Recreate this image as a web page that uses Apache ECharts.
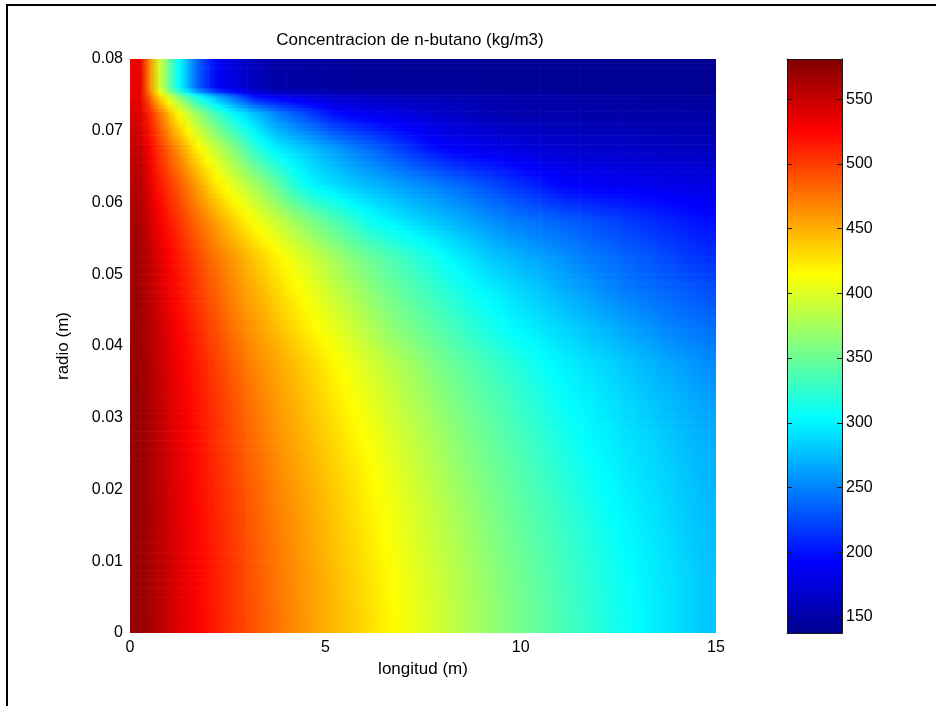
<!DOCTYPE html>
<html>
<head>
<meta charset="utf-8">
<script src="https://cdn.jsdelivr.net/npm/echarts@6/dist/echarts.min.js"></script>
<style>
  html, body { margin: 0; padding: 0; background: #fff; }
  #chart { width: 936px; height: 706px; }
</style>
</head>
<body>
<div id="chart"></div>
<script>
// grid nodes along the tube (m) and along the radius (m)
var longitud = [0.25, 0.75, 1.25, 1.75, 2.25, 2.75, 3.25, 3.75, 4.25, 4.75,
  5.25, 5.75, 6.25, 6.75, 7.25, 7.75, 8.25, 8.75, 9.25, 9.75,
  10.25, 10.75, 11.25, 11.75, 12.25, 12.75, 13.25, 13.75, 14.25, 14.75];
var radio = [0.0025, 0.0075, 0.0125, 0.0175, 0.0225, 0.0275, 0.0325, 0.0375,
  0.0425, 0.0475, 0.0525, 0.0575, 0.0625, 0.0675, 0.0725, 0.0748, 0.0760];

// concentracion (kg/m3), one row per radio value, bottom row first
var concentracion = [
  [572,556,540,525,513,500,488,476,465,455,445,436,426,416,406,397,387,377,368,358,350,341,332,324,315,307,299,293,286,279],
  [572,556,540,525,512,500,487,475,464,454,444,434,424,414,404,395,385,375,366,356,348,339,330,322,313,305,298,292,286,279],
  [572,555,539,523,511,498,485,473,462,452,441,431,421,411,401,391,382,372,362,353,344,336,327,319,310,302,296,290,283,277],
  [572,555,538,522,509,496,483,470,460,449,439,428,418,408,398,388,378,368,358,349,340,332,323,314,305,299,293,287,281,275],
  [571,554,536,521,507,493,480,467,456,446,435,425,414,404,393,383,372,362,353,344,335,326,317,308,301,295,289,284,278,272],
  [571,553,535,519,504,490,476,463,452,441,430,419,409,398,388,377,366,356,347,338,329,320,310,302,297,291,286,280,274,269],
  [571,552,533,517,502,487,472,459,448,436,424,413,402,391,380,369,358,349,340,331,321,312,303,298,292,286,280,274,269,263],
  [570,550,530,513,497,481,466,454,442,430,417,406,394,383,372,360,350,341,331,322,313,303,297,291,285,279,273,267,261,255],
  [569,548,526,508,490,472,458,444,430,416,404,391,378,365,354,344,334,323,313,303,297,290,284,277,271,264,258,251,246,242],
  [568,543,520,501,482,464,449,433,418,404,390,377,363,351,340,329,318,307,299,291,284,276,268,261,253,247,242,237,233,228],
  [566,539,515,494,473,455,437,420,404,389,374,359,347,335,323,312,300,290,280,273,266,260,253,246,241,235,230,224,218,213],
  [563,529,503,478,454,431,409,391,372,354,338,322,306,297,288,280,272,264,255,248,243,238,233,228,223,218,213,208,203,198],
  [558,517,487,455,422,397,374,348,317,298,289,279,272,265,257,250,242,233,225,216,208,199,192,190,188,187,185,183,181,179],
  [552,503,462,419,387,356,321,298,286,274,262,249,237,224,212,199,191,187,183,180,176,172,169,168,167,166,164,163,162,161],
  [541,476,414,367,329,297,273,249,231,214,196,189,184,179,174,169,164,160,155,152,152,151,151,150,150,150,149,149,148,148],
  [534,433,363,309,268,231,196,187,180,173,168,165,162,159,157,156,155,154,153,152,151,150,149,149,148,147,146,146,145,145],
  [534,396,304,232,188,173,158,149,148,146,145,143,142,142,141,141,141,141,140,140,140,140,140,140,139,139,139,139,139,139]
];

var colorbarTicks = [150, 200, 250, 300, 350, 400, 450, 500, 550];
var cMin = 137.6;
var cMax = 581;
var xMax = 15;
var rMax = 0.08;

var jet = ["#00008f", "#0000ff", "#0080ff", "#00ffff", "#80ff80",
  "#ffff00", "#ff8000", "#ff0000", "#800000"];

var nx = longitud.length;
var ny = radio.length;

var nodes = [];
for (var j = 0; j < ny; j++) {
  for (var i = 0; i < nx; i++) {
    nodes.push([longitud[i], radio[j], concentracion[j][i], i, j]);
  }
}

// fractional index of a coordinate in a node array (clamped)
function fracIndex(arr, v) {
  if (v <= arr[0]) return 0;
  if (v >= arr[arr.length - 1]) return arr.length - 1;
  for (var k = 0; k < arr.length - 1; k++) {
    if (v <= arr[k + 1]) return k + (v - arr[k]) / (arr[k + 1] - arr[k]);
  }
  return arr.length - 1;
}

// value between the nodes, like shading interp
function shade(u, v) {
  var i0 = Math.floor(u), j0 = Math.floor(v);
  var i1 = Math.min(i0 + 1, nx - 1), j1 = Math.min(j0 + 1, ny - 1);
  var fu = u - i0, fv = v - j0;
  var a = concentracion[j0][i0] * (1 - fu) + concentracion[j0][i1] * fu;
  var b = concentracion[j1][i0] * (1 - fu) + concentracion[j1][i1] * fu;
  return a * (1 - fv) + b * fv;
}

function colorOf(val) {
  var t = (val - cMin) / (cMax - cMin);
  t = Math.max(0, Math.min(1, t));
  return echarts.color.lerp(t, jet);
}

var subRows = 8;

function renderCell(params, api) {
  var i = api.value(3), j = api.value(4);
  var x0 = i === 0 ? 0 : (longitud[i - 1] + longitud[i]) / 2;
  var x1 = i === nx - 1 ? xMax : (longitud[i] + longitud[i + 1]) / 2;
  var r0 = j === 0 ? 0 : (radio[j - 1] + radio[j]) / 2;
  var r1 = j === ny - 1 ? rMax : (radio[j] + radio[j + 1]) / 2;
  var uL = fracIndex(longitud, x0), uR = fracIndex(longitud, x1);
  var mid = (longitud[i] - x0) / (x1 - x0);
  var children = [];
  for (var s = 0; s < subRows; s++) {
    var ra = r0 + (r1 - r0) * s / subRows;
    var rb = r0 + (r1 - r0) * (s + 1) / subRows;
    var v = fracIndex(radio, (ra + rb) / 2);
    var p0 = api.coord([x0, rb]);
    var p1 = api.coord([x1, ra]);
    children.push({
      type: "rect",
      shape: { x: p0[0], y: p0[1], width: p1[0] - p0[0] + 0.6, height: p1[1] - p0[1] + 0.6 },
      style: {
        fill: {
          type: "linear", x: 0, y: 0, x2: 1, y2: 0,
          colorStops: [
            { offset: 0, color: colorOf(shade(uL, v)) },
            { offset: mid, color: colorOf(shade(i, v)) },
            { offset: 1, color: colorOf(shade(uR, v)) }
          ]
        }
      }
    });
  }
  return { type: "group", children: children };
}

// colour bar: one item spanning the whole colour range
function renderBar(params, api) {
  var p0 = api.coord([api.value(0), api.value(3)]);
  var p1 = api.coord([api.value(1), api.value(2)]);
  var stops = jet.map(function (c, k) {
    return { offset: k / (jet.length - 1), color: c };
  });
  return {
    type: "rect",
    shape: { x: p0[0], y: p0[1], width: p1[0] - p0[0], height: p1[1] - p0[1] },
    style: { fill: { type: "linear", x: 0, y: 1, x2: 0, y2: 0, colorStops: stops } }
  };
}

var font = "Liberation Sans, Arial, Helvetica, sans-serif";
var chart = echarts.init(document.getElementById("chart"));

var frameColor = "#1a1a1a";

function boxAxis(extra) {
  return Object.assign({
    type: "value", gridIndex: 1, zlevel: 1, z: 10,
    axisLine: { show: true, onZero: false, lineStyle: { color: frameColor, width: 1 } },
    axisTick: { show: false },
    axisLabel: { show: false },
    splitLine: { show: false }
  }, extra);
}

var barTicks = { show: true, length: 5, customValues: colorbarTicks, lineStyle: { color: frameColor } };

var option = {
  animation: false,
  backgroundColor: "#fff",
  title: {
    text: "Concentracion de n-butano (kg/m3)",
    left: 405,
    top: 27,
    textAlign: "center",
    textStyle: { fontFamily: font, fontSize: 17, fontWeight: "normal", color: "#000" }
  },
  grid: [
    { left: 130, top: 59, width: 586, height: 574, outerBoundsMode: "none" },
    { left: 787, top: 59, width: 55, height: 574, outerBoundsMode: "none" }
  ],
  xAxis: [
    {
      type: "value", gridIndex: 0, position: "bottom", min: 0, max: xMax, interval: 5,
      axisLine: { show: false }, axisTick: { show: false }, splitLine: { show: false },
      axisLabel: { fontFamily: font, fontSize: 16, color: "#000", margin: 7 },
      name: "longitud (m)", nameLocation: "middle", nameGap: 26,
      nameTextStyle: { fontFamily: font, fontSize: 17, color: "#000" }
    },
    boxAxis({ position: "bottom", min: 0, max: 1 }),
    boxAxis({ position: "top", min: 0, max: 1 })
  ],
  yAxis: [
    {
      type: "value", gridIndex: 0, position: "left", min: 0, max: rMax, interval: 0.01,
      axisLine: { show: false }, axisTick: { show: false }, splitLine: { show: false },
      axisLabel: { fontFamily: font, fontSize: 16, color: "#000", margin: 7 },
      name: "radio (m)", nameLocation: "middle", nameGap: 58,
      nameTextStyle: { fontFamily: font, fontSize: 17, color: "#000" }
    },
    // labels on the right side of the bar
    boxAxis({
      position: "right", min: cMin, max: cMax,
      axisLabel: { show: true, customValues: colorbarTicks, fontFamily: font,
        fontSize: 16, color: "#000", margin: 4 }
    }),
    // ticks on the left edge, pointing into the bar
    boxAxis({ position: "right", offset: -55, min: cMin, max: cMax, axisTick: barTicks }),
    // ticks on the right edge, pointing into the bar
    boxAxis({ position: "left", offset: -55, min: cMin, max: cMax, axisTick: barTicks })
  ],
  graphic: [
    { type: "line", shape: { x1: 6, y1: 5, x2: 936, y2: 5 }, style: { stroke: "#000", lineWidth: 2 } },
    { type: "line", shape: { x1: 7, y1: 4, x2: 7, y2: 706 }, style: { stroke: "#000", lineWidth: 2 } }
  ],
  series: [
    {
      type: "custom",
      xAxisIndex: 0,
      yAxisIndex: 0,
      coordinateSystem: "cartesian2d",
      data: nodes,
      encode: { x: 0, y: 1 },
      renderItem: renderCell,
      clip: true,
      silent: true,
      progressive: 0
    },
    {
      type: "custom",
      xAxisIndex: 1,
      yAxisIndex: 1,
      coordinateSystem: "cartesian2d",
      data: [[0, 1, cMin, cMax]],
      encode: { x: [0, 1], y: [2, 3] },
      renderItem: renderBar,
      silent: true,
      z: 1
    }
  ]
};

chart.setOption(option);
</script>
</body>
</html>
